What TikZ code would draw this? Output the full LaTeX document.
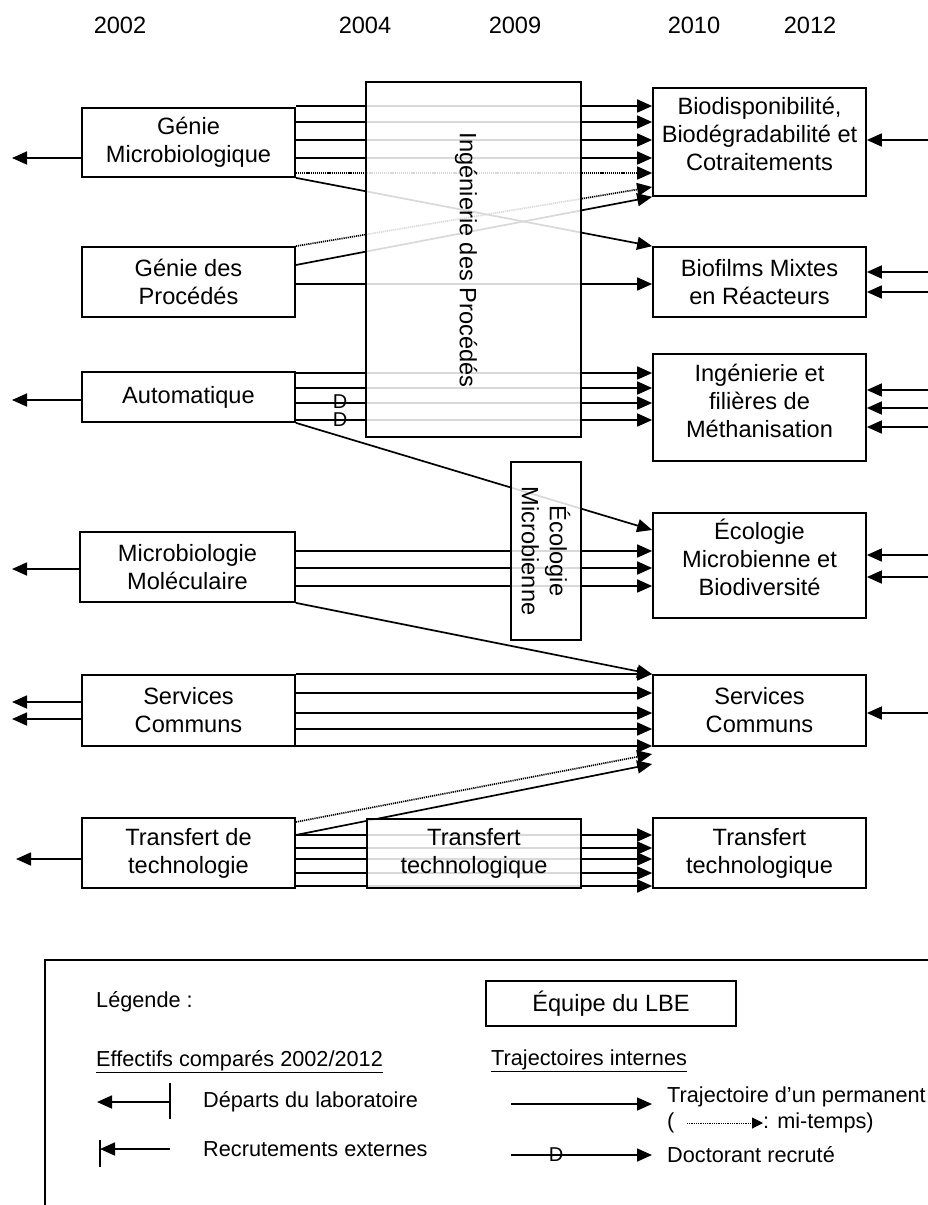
\documentclass[tikz,border=0pt]{standalone}
\usepackage{fontspec}
\setmainfont{Liberation Sans}
\usetikzlibrary{arrows.meta,backgrounds}
\newcommand{\bxf}{\fontsize{23.6}{28}\selectfont}
\newcommand{\lgf}{\fontsize{21.7}{26}\selectfont}
\begin{document}
\begin{tikzpicture}[x=1pt,y=-1pt,
 box/.style={draw=black, line width=1.7pt, fill=white, inner sep=0pt, align=center, font=\bxf, minimum width=213pt},
 midbox/.style={box, fill opacity=0.85, text opacity=1},
 boxtxt/.style={inner sep=0pt, align=center, font=\bxf},
 yr/.style={font=\bxf, inner sep=0pt},
 lgt/.style={font=\lgf, inner sep=0pt, anchor=west},
 link/.style={line width=1.7pt, draw=black},
 arr/.style={link, -{Triangle[length=15pt,width=13pt]}},
 half/.style={arr, dash pattern=on 1.2pt off 0.9pt},
 dlab/.style={font=\fontsize{20}{20}\selectfont, inner sep=0pt},
]
\useasboundingbox (0,0) rectangle (928,1205);

% years
\node[yr] (y02) at (120,25) {2002};
\node[yr] (y04) at (365,25) {2004};
\node[yr] (y09) at (515,25) {2009};
\node[yr] (y10) at (694,25) {2010};
\node[yr] (y12) at (810,25) {2012};

% left boxes (2002)
\node[box, minimum height=69pt] (gm) at (188.5,142.5) {Génie\\Microbiologique};
\node[box, minimum height=70pt] (gp) at (188.5,282) {Génie des\\Procédés};
\node[box, minimum height=50pt] (au) at (188.5,397) {Automatique};
\node[box, minimum width=215pt, minimum height=70pt] (mm) at (187.5,567) {Microbiologie\\Moléculaire};
\node[box, minimum height=71pt] (scl) at (188.5,710.5) {Services\\Communs};
\node[box, minimum height=70pt] (tt) at (188.5,853) {Transfert de\\technologie};

% right boxes (2010-2012)
\node[box, minimum height=108pt] (bio) at (759.5,142) {};
\node[boxtxt] (biot) at ([yshift=8pt]bio.center) {Biodisponibilité,\\Biodégradabilité et\\Cotraitements};
\node[box, minimum height=70pt] (biof) at (759.5,282) {Biofilms Mixtes\\en Réacteurs};
\node[box, minimum height=107pt] (ing) at (759.5,407.5) {};
\node[boxtxt] (ingt) at ([yshift=7pt]ing.center) {Ingénierie et\\filières de\\Méthanisation};
\node[box, minimum height=105pt] (eco) at (759.5,565.5) {};
\node[boxtxt] (ecot) at ([yshift=8pt]eco.center) {Écologie\\Microbienne et\\Biodiversité};
\node[box, minimum height=71pt] (scr) at (759.5,710.5) {Services\\Communs};
\node[box, minimum height=70pt] (ttr) at (759.5,853) {Transfert\\technologique};

% middle boxes (2004-2009)
\node[midbox, minimum width=215pt, minimum height=355pt] (ip) at (473.5,259.5) {};
\node[boxtxt, rotate=-90] (ipt) at (466,260) {Ingénierie des Procédés};
\node[midbox, minimum width=70pt, minimum height=178pt] (em) at (546,551) {};
\node[boxtxt, rotate=-90] (emt) at (546,551) {Écologie\\Microbienne};
\node[midbox, minimum width=214pt, minimum height=69pt] (ttm) at (474,853.5) {Transfert\\technologique};

\coordinate (ledge) at (12,0);
\coordinate (redge) at (928,0);

\node[dlab] (d1) at (340,402) {D};
\node[dlab] (d2) at (340,420) {D};

\begin{pgfonlayer}{background}
% Genie Microbiologique
\foreach \y in {106,122,140,158} \draw[arr] (gm.east |- 0,\y) -- (bio.west |- 0,\y);
\draw[half] (gm.east |- 0,173) -- (bio.west |- 0,173);
\draw[arr] (gm.south east) -- (biof.north west);
% Genie des Procedes
\draw[half] (gp.north east) -- (bio.west |- 0,187);
\draw[arr] (gp.east |- 0,265) -- (bio.south west);
\draw[arr] (gp.east |- 0,284) -- (biof.west |- 0,284);
% Automatique
\foreach \y in {373,388,403,420} \draw[arr] (au.east |- 0,\y) -- (ing.west |- 0,\y);
\draw[arr] (au.south east) -- (eco.west |- 0,530);
% Microbiologie Moleculaire
\foreach \y in {551,568,586} \draw[arr] (mm.east |- 0,\y) -- (eco.west |- 0,\y);
\draw[arr] (mm.south east) -- (scr.north west);
% Services Communs
\foreach \y in {674,693,713,729,746} \draw[arr] (scl.east |- 0,\y) -- (scr.west |- 0,\y);
% Transfert
\draw[half] (tt.east |- 0,822) -- (scr.west |- 0,754);
\draw[arr] (tt.east |- 0,835) -- (scr.west |- 0,764);
\foreach \y in {835,848,859,873,886} \draw[arr] (tt.east |- 0,\y) -- (ttr.west |- 0,\y);
% departures
\draw[arr] (gm.west |- 0,158) -- (ledge |- 0,158);
\draw[arr] (au.west |- 0,400) -- (ledge |- 0,400);
\draw[arr] (mm.west |- 0,569) -- (ledge |- 0,569);
\draw[arr] (scl.west |- 0,702) -- (ledge |- 0,702);
\draw[arr] (scl.west |- 0,719) -- (ledge |- 0,719);
\draw[arr] (tt.west |- 0,859) -- ([xshift=4pt]ledge |- 0,859);
% recruitments
\draw[arr] (redge |- 0,140) -- (bio.east |- 0,140);
\draw[arr] (redge |- 0,272) -- (biof.east |- 0,272);
\draw[arr] (redge |- 0,292) -- (biof.east |- 0,292);
\draw[arr] (redge |- 0,390) -- (ing.east |- 0,390);
\draw[arr] (redge |- 0,408) -- (ing.east |- 0,408);
\draw[arr] (redge |- 0,427) -- (ing.east |- 0,427);
\draw[arr] (redge |- 0,555) -- (eco.east |- 0,555);
\draw[arr] (redge |- 0,577) -- (eco.east |- 0,577);
\draw[arr] (redge |- 0,713) -- (scr.east |- 0,713);
\end{pgfonlayer}

% legend
\draw[line width=2.8pt, line join=miter] (45,1212) -- (45,960) -- (935,960);
\node[lgt] (lg) at (96,1002) {Légende :};
\node[lgt] (lg1) at (96,1062) {\underline{Effectifs comparés 2002/2012}};
\coordinate (dpA) at (170,1102);
\coordinate (dpB) at (97,1102);
\draw[arr] (dpA) -- (dpB);
\draw[line width=1.1pt] (dpA) ++(0,-19) -- ++(0,36);
\node[lgt] (lg2) at (203,1102) {Départs du laboratoire};
\coordinate (rcA) at (170,1149);
\coordinate (rcB) at (100,1149);
\draw[arr] (rcA) -- (rcB);
\draw[line width=1.1pt] (rcB) ++(0,-9) -- ++(0,27);
\node[lgt] (lg3) at (203,1149) {Recrutements externes};

\node[box, minimum width=250pt, minimum height=45pt] (lbe) at (611,1003.5) {Équipe du LBE};
\node[lgt] (lg4) at (491,1061) {\underline{Trajectoires internes}};
\coordinate (tpA) at (511,1104);
\coordinate (tpB) at (652,1104);
\draw[arr] (tpA) -- (tpB);
\node[lgt] (lg5) at (667,1097) {Trajectoire d’un permanent};
\node[lgt] (lp) at (667,1123) {(};
\node[lgt] (lg6) at (763,1123) {: mi-temps)};
\coordinate (mtA) at (687,1123);
\draw[line width=1pt, dash pattern=on 1pt off 0.8pt, -{Triangle[length=11pt,width=11pt]}] (mtA) -- (lg6.west);
\coordinate (drA) at (511,1155);
\coordinate (drB) at (652,1155);
\draw[arr] (drA) -- (drB);
\node[dlab] (d3) at (556,1155) {D};
\node[lgt] (lg7) at (667,1155) {Doctorant recruté};
\end{tikzpicture}
\end{document}
